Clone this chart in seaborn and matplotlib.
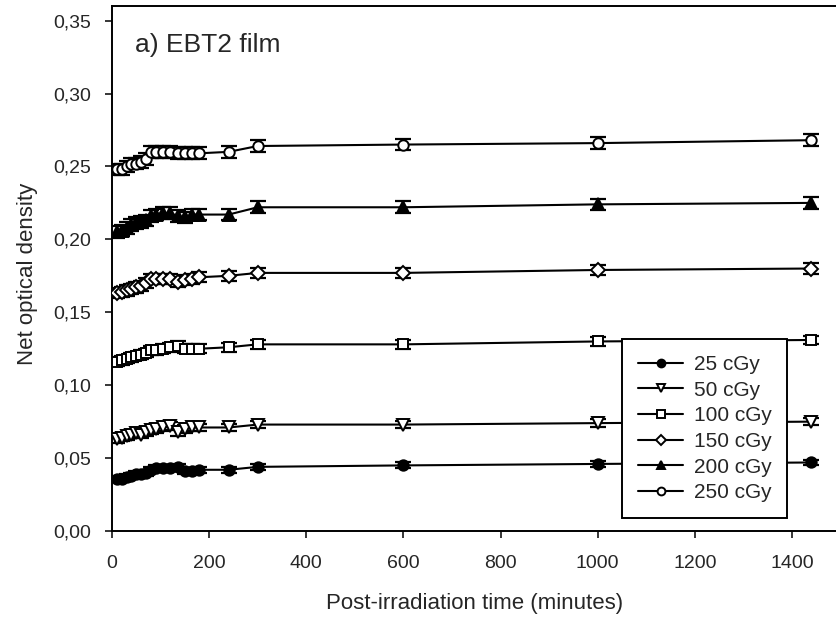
import numpy as np
import pandas as pd
import matplotlib
matplotlib.use("Agg")
import matplotlib.pyplot as plt
from matplotlib.ticker import FuncFormatter
import seaborn as sns

sns.set_style("ticks")
plt.rcParams['font.family'] = ['Liberation Sans', 'DejaVu Sans']

# post-irradiation time (minutes)
times = [10, 20, 30, 40, 50, 60, 70, 80, 90, 105, 120, 135, 150, 165, 180,
         240, 300, 600, 1000, 1440]

doses = ["25 cGy", "50 cGy", "100 cGy", "150 cGy", "200 cGy", "250 cGy"]

od_25 = [0.036, 0.036, 0.037, 0.038, 0.039, 0.039, 0.040, 0.042, 0.043, 0.043,
         0.043, 0.044, 0.041, 0.041, 0.042, 0.042, 0.044, 0.045, 0.046, 0.047]
od_50 = [0.063, 0.064, 0.065, 0.066, 0.067, 0.066, 0.068, 0.069, 0.070, 0.071,
         0.072, 0.068, 0.070, 0.071, 0.071, 0.071, 0.073, 0.073, 0.074, 0.075]
od_100 = [0.116, 0.117, 0.118, 0.119, 0.120, 0.121, 0.122, 0.124, 0.124, 0.125,
          0.126, 0.127, 0.125, 0.125, 0.125, 0.126, 0.128, 0.128, 0.130, 0.131]
od_150 = [0.163, 0.164, 0.165, 0.166, 0.167, 0.168, 0.170, 0.173, 0.173, 0.173,
          0.173, 0.171, 0.172, 0.173, 0.174, 0.175, 0.177, 0.177, 0.179, 0.180]
od_200 = [0.205, 0.206, 0.208, 0.210, 0.211, 0.212, 0.213, 0.216, 0.217, 0.218,
          0.218, 0.216, 0.215, 0.217, 0.217, 0.217, 0.222, 0.222, 0.224, 0.225]
od_250 = [0.248, 0.248, 0.250, 0.252, 0.252, 0.253, 0.255, 0.260, 0.260, 0.260,
          0.260, 0.259, 0.259, 0.259, 0.259, 0.260, 0.264, 0.265, 0.266, 0.268]

# standard deviation per dose
od_err = [0.002, 0.0025, 0.003, 0.0035, 0.004, 0.004]

series = [od_25, od_50, od_100, od_150, od_200, od_250]
markers = ['o', 'v', 's', 'D', '^', 'o']
filled = [True, False, False, False, True, False]
msizes = [7.5, 8, 7, 7, 8, 7.5]

fig = plt.figure(figsize=(8.37, 6.2), dpi=100)
ax = fig.add_axes([0.1338, 0.1435, 0.8705, 0.8468])

for dose, vals, err, mk, fl, ms in zip(doses, series, od_err, markers, filled, msizes):
    df = pd.DataFrame({'time': times, 'od': vals})
    ax.errorbar(df['time'], df['od'], yerr=err, fmt='none', ecolor='black',
                elinewidth=1.5, capsize=6, capthick=1.6, zorder=2)
    sns.lineplot(data=df, x='time', y='od', ax=ax, color='black', lw=1.5,
                 marker=mk, markersize=ms, mfc='black' if fl else 'white',
                 mec='black', mew=1.4, label=dose, zorder=3)

ax.set_xlim(0, 1500)
ax.set_ylim(0, 0.36)
ax.set_xticks(range(0, 1401, 200))
ax.set_yticks(np.arange(0, 0.351, 0.05))
ax.yaxis.set_major_formatter(FuncFormatter(lambda v, p: f"{v:.2f}".replace('.', ',')))
ax.tick_params(direction='out', length=5, width=1.3, labelsize=14)
ax.tick_params(axis='x', pad=12)
ax.tick_params(axis='y', pad=10)
for s in ax.spines.values():
    s.set_linewidth(1.4)
    s.set_color('black')

ax.set_xlabel("Post-irradiation time (minutes)", fontsize=16)
ax.set_ylabel("Net optical density", fontsize=16)
ax.xaxis.set_label_coords(0.498, -0.118)
ax.yaxis.set_label_coords(-0.102, 0.49)

ax.text(0.032, 0.926, "a) EBT2 film", transform=ax.transAxes, fontsize=19,
        va='center', ha='left')

leg = ax.legend(loc='lower left', bbox_to_anchor=(0.700, 0.025), borderaxespad=0,
                fontsize=15, frameon=True, fancybox=False, framealpha=1,
                edgecolor='black', handlelength=2.2, handletextpad=0.5,
                labelspacing=0.32, borderpad=0.75, markerscale=0.75)
leg.get_frame().set_linewidth(1.4)

fig.savefig("out.png", dpi=100)
